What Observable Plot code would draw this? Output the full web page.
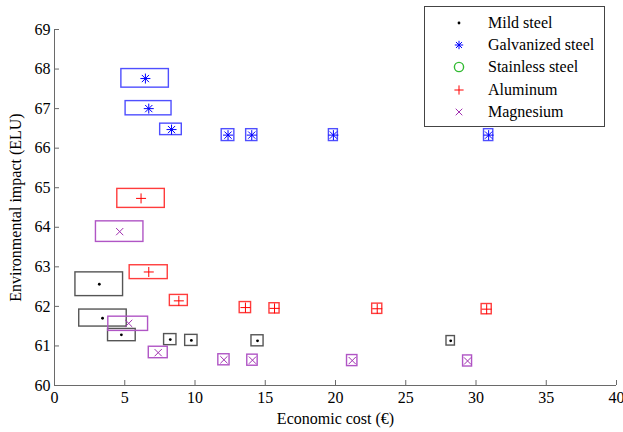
<!DOCTYPE html>
<html><head><meta charset="utf-8">
<script src="https://cdn.jsdelivr.net/npm/d3@7"></script>
<script src="https://cdn.jsdelivr.net/npm/@observablehq/plot@0.6"></script>
<style>
body{margin:0;background:#fff;}
#wrap{position:relative;width:623px;height:432px;font-family:"Liberation Serif","Times New Roman",serif;}
#legend{position:absolute;left:424px;top:6px;width:181px;height:121px;border:1px solid #444;background:#fff;box-sizing:border-box;}
.row{position:absolute;left:0;height:22px;display:flex;align-items:center;font-size:16px;color:#000;white-space:nowrap;}
.row svg{position:absolute;left:24px;top:0;}
.row span{position:absolute;left:63px;}
</style></head><body><div id="wrap"><div id="legend"></div></div>
<script>
// ---- data ----
const materials = ["Mild steel", "Galvanized steel", "Stainless steel", "Aluminum", "Magnesium"];
const xTicks = [0, 5, 10, 15, 20, 25, 30, 35, 40];
const yTicks = [60, 61, 62, 63, 64, 65, 66, 67, 68, 69];

// Mild steel
const mildCost   = [3.19, 3.42, 4.76, 8.24, 9.74, 14.45, 28.2];
const mildImpact = [62.56, 61.70, 61.28, 61.16, 61.14, 61.13, 61.13];
const mildCostLo = [1.49, 1.76, 3.81, 7.80, 9.30, 14.02, 27.90];
const mildCostHi = [4.88, 5.14, 5.78, 8.68, 10.18, 14.88, 28.50];
const mildImpLo  = [62.26, 61.49, 61.12, 61.02, 61.00, 60.99, 61.01];
const mildImpHi  = [62.86, 61.92, 61.43, 61.30, 61.28, 61.27, 61.25];

// Galvanized steel
const galvCost   = [6.47, 6.71, 8.33, 12.35, 14.04, 19.85, 30.9];
const galvImpact = [67.76, 67.00, 66.47, 66.33, 66.33, 66.33, 66.33];
const galvCostLo = [4.76, 5.06, 7.52, 11.90, 13.64, 19.53, 30.57];
const galvCostHi = [8.14, 8.33, 9.06, 12.80, 14.44, 20.17, 31.23];
const galvImpLo  = [67.53, 66.83, 66.33, 66.18, 66.18, 66.18, 66.18];
const galvImpHi  = [68.00, 67.19, 66.62, 66.48, 66.48, 66.48, 66.48];

// Stainless steel (no points drawn)
const stainCost = [];
const stainImpact = [];

// Aluminum
const aluCost   = [6.16, 6.71, 8.85, 13.59, 15.66, 22.97, 30.76];
const aluImpact = [64.73, 62.87, 62.14, 61.97, 61.95, 61.94, 61.93];
const aluCostLo = [4.47, 5.35, 8.21, 13.18, 15.30, 22.61, 30.40];
const aluCostHi = [7.85, 8.06, 9.49, 13.99, 16.02, 23.33, 31.12];
const aluImpLo  = [64.49, 62.69, 62.01, 61.83, 61.82, 61.81, 61.80];
const aluImpHi  = [64.97, 63.04, 62.29, 62.11, 62.08, 62.07, 62.06];

// Magnesium
const mgCost   = [4.64, 5.28, 7.38, 12.06, 14.09, 21.19, 29.4];
const mgImpact = [63.89, 61.57, 60.83, 60.65, 60.64, 60.63, 60.62];
const mgCostLo = [2.95, 3.83, 6.71, 11.66, 13.72, 20.82, 29.08];
const mgCostHi = [6.33, 6.66, 8.06, 12.46, 14.46, 21.56, 29.72];
const mgImpLo  = [63.63, 61.38, 60.69, 60.51, 60.50, 60.49, 60.48];
const mgImpHi  = [64.15, 61.74, 60.98, 60.79, 60.78, 60.77, 60.76];

// ---- symbols ----
const rad = s => Math.sqrt(s / Math.PI);
const symDot = {draw(c, s) { const r = rad(s); c.moveTo(r, 0); c.arc(0, 0, r, 0, 2 * Math.PI); }};
const symPlus = {draw(c, s) { const r = rad(s); c.moveTo(-r, 0); c.lineTo(r, 0); c.moveTo(0, -r); c.lineTo(0, r); }};
const symTimes = {draw(c, s) { const r = rad(s) * 0.72; c.moveTo(-r, -r); c.lineTo(r, r); c.moveTo(-r, r); c.lineTo(r, -r); }};
const symStar = {draw(c, s) { symPlus.draw(c, s); symTimes.draw(c, s); }};
const symCircle = {draw(c, s) { const r = rad(s); c.moveTo(r, 0); c.arc(0, 0, r, 0, 2 * Math.PI); }};

const styles = {
  "Mild steel":       {sym: symDot,    r: 1.4, mark: "#000000", box: "#555555", filled: true,  lr: 1.4},
  "Galvanized steel": {sym: symStar,   r: 5,   mark: "#0000ff", box: "#4f4fff", filled: false, lr: 4.2},
  "Stainless steel":  {sym: symCircle, r: 4.5, mark: "#33bb33", box: "#33bb33", filled: false, lr: 4.6},
  "Aluminum":         {sym: symPlus,   r: 5,   mark: "#ff0000", box: "#ff3c3c", filled: false, lr: 4.6},
  "Magnesium":        {sym: symTimes,  r: 5,   mark: "#a030b0", box: "#b055c5", filled: false, lr: 4.6}
};

function build(name, cost, imp, clo, chi, ilo, ihi) {
  return cost.map((c, i) => ({material: name, cost: c, impact: imp[i],
    x1: clo ? clo[i] : c, x2: chi ? chi[i] : c, y1: ilo ? ilo[i] : imp[i], y2: ihi ? ihi[i] : imp[i]}));
}
const series = {
  "Mild steel": build("Mild steel", mildCost, mildImpact, mildCostLo, mildCostHi, mildImpLo, mildImpHi),
  "Galvanized steel": build("Galvanized steel", galvCost, galvImpact, galvCostLo, galvCostHi, galvImpLo, galvImpHi),
  "Stainless steel": build("Stainless steel", stainCost, stainImpact),
  "Aluminum": build("Aluminum", aluCost, aluImpact, aluCostLo, aluCostHi, aluImpLo, aluImpHi),
  "Magnesium": build("Magnesium", mgCost, mgImpact, mgCostLo, mgCostHi, mgImpLo, mgImpHi)
};

const axisColor = "#6a6a6a";
const marks = [
  Plot.ruleX([0], {stroke: axisColor}),
  Plot.ruleY([60], {stroke: axisColor}),
  Plot.axisX(xTicks, {tickSize: 5, dy: -5, tickFormat: () => "", label: null, stroke: axisColor}),
  Plot.axisY(yTicks, {tickSize: 5, dx: 5, tickFormat: () => "", label: null, stroke: axisColor}),
  Plot.axisX(xTicks, {tickSize: 0, tickPadding: 6, label: "Economic cost (€)", labelAnchor: "center", labelOffset: 38, labelArrow: "none"}),
  Plot.axisY(yTicks, {tickSize: 0, tickPadding: 4, label: "Environmental impact (ELU)", labelAnchor: "center", labelOffset: 45, labelArrow: "none"})
];
for (const m of materials) {
  const st = styles[m], data = series[m];
  if (!data.length) continue;
  marks.push(Plot.rect(data, {x1: "x1", x2: "x2", y1: "y1", y2: "y2", stroke: st.box, strokeWidth: 1.4, fill: "none"}));
}
for (const m of materials) {
  const st = styles[m], data = series[m];
  if (!data.length) continue;
  marks.push(Plot.dot(data, {x: "cost", y: "impact", symbol: st.sym, r: st.r,
    fill: st.filled ? st.mark : "none", stroke: st.filled ? "none" : st.mark, strokeWidth: 1}));
}

const chart = Plot.plot({
  width: 623, height: 432,
  marginLeft: 54, marginRight: 7, marginTop: 29, marginBottom: 47,
  style: {fontFamily: '"Liberation Serif","Times New Roman",serif', fontSize: "16px", color: "#000", background: "#fff"},
  x: {domain: [0, 40]},
  y: {domain: [60, 69]},
  marks
});
const wrap = document.getElementById("wrap");
wrap.insertBefore(chart, wrap.firstChild);

// ---- legend ----
const legend = document.getElementById("legend");
const rowCenters = [15.5, 37.5, 60, 82.5, 105];
materials.forEach((m, i) => {
  const st = styles[m];
  const row = document.createElement("div");
  row.className = "row";
  row.style.top = (rowCenters[i] - 11) + "px";
  const svg = d3.create("svg").attr("width", 20).attr("height", 22);
  svg.append("path")
    .attr("transform", "translate(10,11)")
    .attr("d", d3.symbol(st.sym, Math.PI * st.lr * st.lr)())
    .attr("fill", st.filled ? st.mark : "none")
    .attr("stroke", st.filled ? "none" : st.mark)
    .attr("stroke-width", m === "Stainless steel" ? 1.4 : 1);
  row.appendChild(svg.node());
  const sp = document.createElement("span");
  sp.textContent = m;
  row.appendChild(sp);
  legend.appendChild(row);
});
</script></body></html>
